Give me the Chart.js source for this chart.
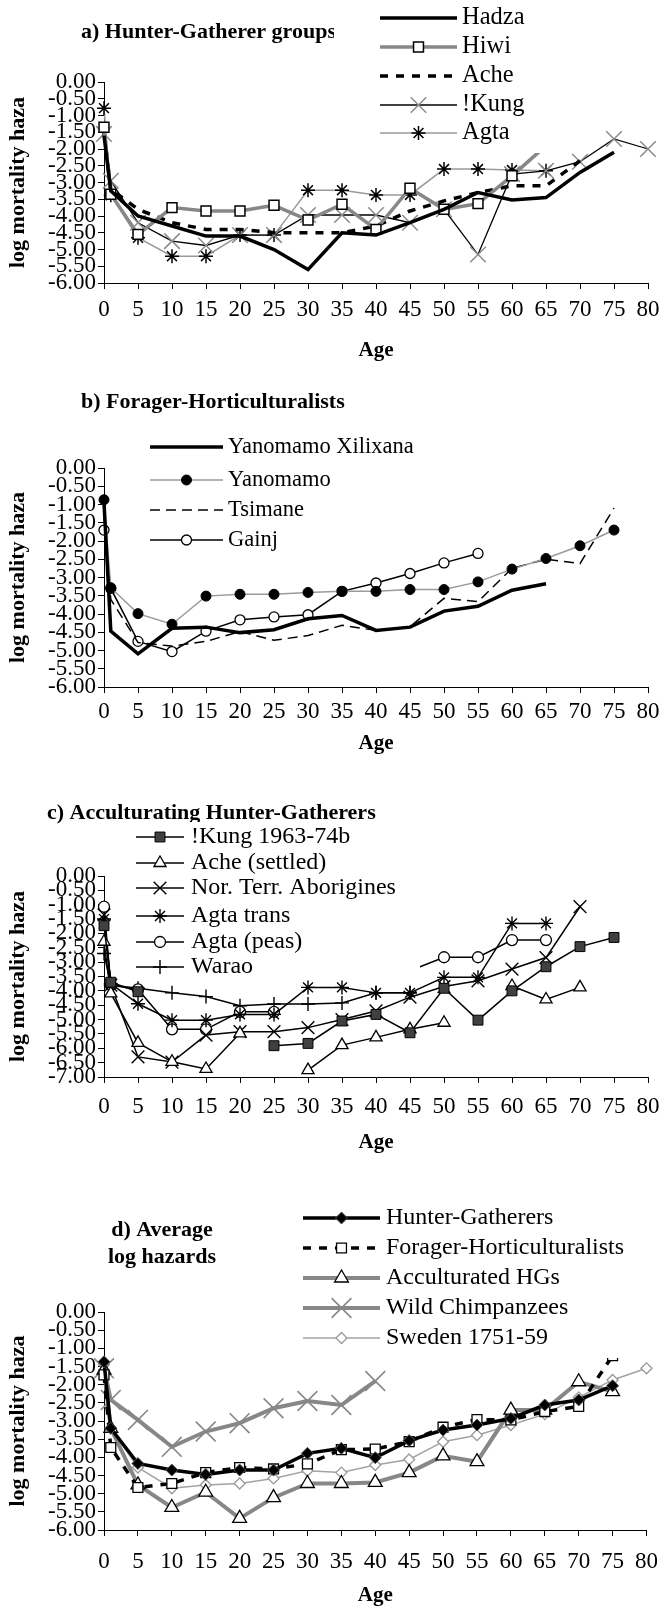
<!DOCTYPE html>
<html><head><meta charset="utf-8">
<script src="https://cdn.jsdelivr.net/npm/chart.js@4.4.1/dist/chart.umd.min.js"></script>
<style>
html,body{margin:0;padding:0;background:#fff;}
body{width:670px;height:1608px;position:relative;overflow:hidden;}
canvas{position:absolute;left:0;}
</style></head><body>
<canvas id="ca" width="670" height="392" style="top:0px"></canvas>
<canvas id="cb" width="670" height="398" style="top:392px"></canvas>
<canvas id="cc" width="670" height="395" style="top:790px"></canvas>
<canvas id="cd" width="670" height="423" style="top:1185px"></canvas>
<script>
// ---------- data ----------
const ages = [0, 1, 5, 10, 15, 20, 25, 30, 35, 40, 45, 50, 55, 60, 65, 70, 75, 80];
const ageTicks = [0, 5, 10, 15, 20, 25, 30, 35, 40, 45, 50, 55, 60, 65, 70, 75, 80];
const yTicks6 = [0, -0.5, -1, -1.5, -2, -2.5, -3, -3.5, -4, -4.5, -5, -5.5, -6];
const yTicks7 = [0, -0.5, -1, -1.5, -2, -2.5, -3, -3.5, -4, -4.5, -5, -5.5, -6, -6.5, -7];

// a) Hunter-Gatherer groups
const hadza = [-1.6, -3.25, -4.0, -4.3, -4.6, -4.6, -5.0, -5.6, -4.5, -4.57, -4.2, -3.8, -3.3, -3.52, -3.45, -2.7, -2.1];
const hiwi  = [-1.35, -3.35, -4.55, -3.75, -3.85, -3.85, -3.68, -4.12, -3.65, -4.4, -3.17, -3.8, -3.63, -2.8, -1.9];
const ache  = [-1.5, -3.2, -3.8, -4.2, -4.4, -4.4, -4.5, -4.5, -4.5, -4.3, -3.85, -3.55, -3.3, -3.1, -3.1, -2.35];
const kung  = [-1.55, -2.95, -4.2, -4.75, -4.88, -4.57, -4.57, -3.97, -3.97, -3.97, -4.2, -3.8, -5.15, -2.75, -2.65, -2.38, -1.7, -2.0];
const agta  = [-0.78, -3.38, -4.65, -5.2, -5.2, -4.57, -4.57, -3.23, -3.23, -3.37, -3.37, -2.6, -2.6, -2.63, -2.65];

// b) Forager-Horticulturalists
const xilixana = [-0.95, -4.47, -5.09, -4.39, -4.36, -4.51, -4.43, -4.13, -4.04, -4.45, -4.36, -3.92, -3.79, -3.35, -3.17];
const yanomamo = [-0.87, -3.28, -3.99, -4.28, -3.51, -3.46, -3.46, -3.41, -3.38, -3.38, -3.33, -3.33, -3.12, -2.77, -2.48, -2.13, -1.7];
const tsimane  = [-1.3, -3.6, -4.78, -4.88, -4.75, -4.48, -4.72, -4.59, -4.31, -4.45, -4.35, -3.57, -3.66, -2.75, -2.5, -2.62, -1.1];
const gainj    = [-1.7, -3.3, -4.75, -5.03, -4.47, -4.16, -4.08, -4.02, -3.38, -3.15, -2.89, -2.6, -2.34];

// c) Acculturating Hunter-Gatherers
const kung6374    = [-1.73, -3.7, -4.03, null, null, null, -5.91, -5.83, -5.05, -4.82, -5.46, -3.91, -5.02, -4.0, -3.16, -2.46, -2.14];
const acheSettled = [-2.29, -4.09, -5.81, -6.47, -6.72, -5.48, null, -6.76, -5.89, -5.62, -5.34, -5.11, null, -3.83, -4.3, -3.88];
const norTerr     = [-1.35, -3.8, -6.3, -6.48, -5.54, -5.42, -5.42, -5.28, -5.0, -4.7, -4.22, -3.85, -3.65, -3.24, -2.84, -1.07];
const agtaTrans   = [-1.5, -3.75, -4.45, -5.02, -5.02, -4.82, -4.82, -3.88, -3.88, -4.07, -4.07, -3.53, -3.53, -1.65, -1.65];
const agtaPeas    = [-1.07, -3.8, -3.95, -5.34, -5.34, -4.73, -4.73, null, null, null, -3.3, -2.83, -2.83, -2.23, -2.23];
const warao       = [-2.7, -3.8, -3.91, -4.07, -4.2, -4.52, -4.46, -4.46, -4.42, -4.07, -4.07];

// d) Average log hazards
const hunterGatherers = [-1.37, -3.2, -4.17, -4.35, -4.47, -4.35, -4.35, -3.89, -3.75, -4.01, -3.54, -3.25, -3.11, -2.93, -2.56, -2.42, -2.03];
const foragerHort     = [-1.73, -3.73, -4.83, -4.72, -4.42, -4.28, -4.32, -4.18, -3.79, -3.77, -3.57, -3.17, -2.96, -2.97, -2.74, -2.6, -1.2];
const acculturated    = [-1.6, -3.2, -4.76, -5.38, -4.96, -5.68, -5.11, -4.72, -4.72, -4.69, -4.42, -3.96, -4.12, -2.7, -2.7, -1.92, -2.19];
const chimps          = [-1.55, -2.42, -2.97, -3.71, -3.29, -3.06, -2.65, -2.45, -2.56, -1.9];
const sweden          = [-1.45, -3.2, -4.28, -4.85, -4.76, -4.72, -4.58, -4.37, -4.42, -4.21, -4.06, -3.57, -3.39, -3.11, -2.81, -2.35, -1.87, -1.55];

// ---------- helpers ----------
const SERIF = '"Liberation Serif", "Times New Roman", serif';
function ser(label, values, st) {
  return Object.assign({
    label,
    data: ages.map((a, i) => ({x: a, y: (values[i] === undefined ? null : values[i])})),
    clip: false, spanGaps: false, tension: 0, fill: false,
    pointRadius: 0, pointHoverRadius: 0, borderWidth: 1.5, borderColor: '#000'
  }, st);
}

const panelDecor = {
  id: 'panelDecor',
  afterDatasetsDraw(chart, args, opts) {
    const ctx = chart.ctx;
    ctx.save();
    ctx.fillStyle = '#000';
    ctx.font = 'bold 22px ' + SERIF;
    ctx.textBaseline = 'middle';
    (opts.titles || []).forEach(t => { ctx.textAlign = t.align || 'left'; ctx.fillText(t.text, t.x, t.y); });
    const b = opts.box;
    ctx.fillStyle = '#fff';
    ctx.fillRect(b.x, b.y, b.w, b.h);
    chart.data.datasets.forEach((ds, i) => {
      const y = opts.rows[i];
      ctx.save();
      ctx.strokeStyle = ds.borderColor;
      ctx.lineWidth = ds.borderWidth;
      ctx.setLineDash(ds.borderDash || []);
      ctx.beginPath(); ctx.moveTo(opts.x1, y); ctx.lineTo(opts.x2, y); ctx.stroke();
      ctx.setLineDash([]);
      if (ds.pointRadius > 0 && ds.pointStyle) {
        ctx.fillStyle = ds.pointBackgroundColor || '#fff';
        ctx.strokeStyle = ds.pointBorderColor || '#000';
        ctx.lineWidth = ds.pointBorderWidth || 1;
        Chart.helpers.drawPoint(ctx, {pointStyle: ds.pointStyle, radius: ds.pointRadius, borderWidth: ds.pointBorderWidth || 1, rotation: 0}, (opts.x1 + opts.x2) / 2, y);
      }
      ctx.restore();
      ctx.fillStyle = '#000';
      ctx.font = opts.fontSize + 'px ' + SERIF;
      ctx.textAlign = 'left';
      ctx.textBaseline = 'middle';
      ctx.fillText(ds.label, opts.tx, y);
    });
    ctx.restore();
  }
};

function makeOptions(p) {
  return {
    responsive: false, animation: false, events: [],
    layout: {padding: {top: p.top, right: 22, left: 0, bottom: 0}},
    plugins: {legend: {display: false}, title: {display: false}, tooltip: {enabled: false}, panelDecor: p.decor},
    scales: {
      x: {
        type: 'linear', min: 0, max: 80,
        afterFit(s) { s.height = p.xh; },
        afterBuildTicks(s) { s.ticks = ageTicks.map(v => ({value: v})); },
        grid: {drawOnChartArea: false, drawTicks: true, tickLength: 6, color: '#000', lineWidth: 1},
        border: {display: true, color: '#000', width: 1},
        ticks: {color: '#000', font: {family: SERIF, size: 23}, padding: p.tickPad, maxRotation: 0, minRotation: 0, autoSkip: false},
        title: {display: true, text: 'Age', color: '#000', font: {family: SERIF, size: 21, weight: 'bold'}, padding: {top: 0, bottom: p.agePad}}
      },
      y: {
        type: 'linear', min: p.ymin, max: 0,
        afterFit(s) { s.width = 104; },
        afterBuildTicks(s) { s.ticks = p.yTicks.map(v => ({value: v})); },
        grid: {drawOnChartArea: false, drawTicks: true, tickLength: 6, color: '#000', lineWidth: 1},
        border: {display: true, color: '#000', width: 1},
        ticks: {color: '#000', font: {family: SERIF, size: 23}, padding: 2, autoSkip: false, callback: v => Number(v).toFixed(2)},
        title: {display: true, text: 'log mortality haza', color: '#000', font: {family: SERIF, size: 22, weight: 'bold'}, padding: {top: 5, bottom: 0}}
      }
    }
  };
}

const GRAY = '#878787', LGRAY = '#a3a3a3';

// ---------- panel a ----------
new Chart(document.getElementById('ca'), {
  type: 'line',
  data: {datasets: [
    ser('Hadza', hadza, {borderColor: '#000', borderWidth: 3.5}),
    ser('Hiwi', hiwi, {borderColor: GRAY, borderWidth: 3.5, pointStyle: 'rect', pointRadius: 7, pointBackgroundColor: '#fff', pointBorderColor: '#000', pointBorderWidth: 1.5}),
    ser('Ache', ache, {borderColor: '#000', borderWidth: 3.5, borderDash: [8, 8]}),
    ser('!Kung', kung, {borderColor: '#000', borderWidth: 1.3, pointStyle: 'crossRot', pointRadius: 11, pointBorderColor: '#8c8c8c', pointBackgroundColor: '#8c8c8c', pointBorderWidth: 1.5}),
    ser('Agta', agta, {borderColor: '#9a9a9a', borderWidth: 1.5, pointStyle: 'star', pointRadius: 7, pointBorderColor: '#000', pointBackgroundColor: '#000', pointBorderWidth: 1.5})
  ]},
  options: makeOptions({top: 82, xh: 109, tickPad: 7, agePad: 29, ymin: -6, yTicks: yTicks6,
    decor: {titles: [{text: 'a) Hunter-Gatherer groups', x: 81, y: 32}], box: {x: 334, y: 0, w: 228, h: 153}, rows: [18, 47, 76, 105, 133], x1: 380, x2: 457, tx: 462, fontSize: 24.5}}),
  plugins: [panelDecor]
});

// ---------- panel b ----------
new Chart(document.getElementById('cb'), {
  type: 'line',
  data: {datasets: [
    ser('Yanomamo Xilixana', xilixana, {borderColor: '#000', borderWidth: 3.5}),
    ser('Yanomamo', yanomamo, {borderColor: '#9a9a9a', borderWidth: 1.5, pointStyle: 'circle', pointRadius: 5, pointBackgroundColor: '#000', pointBorderColor: '#000', pointBorderWidth: 1}),
    ser('Tsimane', tsimane, {borderColor: '#000', borderWidth: 1.5, borderDash: [10, 6]}),
    ser('Gainj', gainj, {borderColor: '#000', borderWidth: 1.5, pointStyle: 'circle', pointRadius: 5, pointBackgroundColor: '#fff', pointBorderColor: '#000', pointBorderWidth: 1.3})
  ]},
  options: makeOptions({top: 76, xh: 103, tickPad: 5, agePad: 34, ymin: -6, yTicks: yTicks6,
    decor: {titles: [{text: 'b) Forager-Horticulturalists', x: 81, y: 10}], box: {x: 140, y: 38, w: 290, h: 125}, rows: [55, 88, 118, 148], x1: 150, x2: 223, tx: 228, fontSize: 22.5}}),
  plugins: [panelDecor]
});

// ---------- panel c ----------
new Chart(document.getElementById('cc'), {
  type: 'line',
  data: {datasets: [
    ser('!Kung 1963-74b', kung6374, {pointStyle: 'rect', pointRadius: 7, pointBackgroundColor: '#404040', pointBorderColor: '#000', pointBorderWidth: 1}),
    ser('Ache (settled)', acheSettled, {pointStyle: 'triangle', pointRadius: 7, pointBackgroundColor: '#fff', pointBorderColor: '#000', pointBorderWidth: 1.3}),
    ser('Nor. Terr. Aborigines', norTerr, {pointStyle: 'crossRot', pointRadius: 9, pointBorderColor: '#000', pointBorderWidth: 1.4}),
    ser('Agta trans', agtaTrans, {pointStyle: 'star', pointRadius: 7, pointBorderColor: '#000', pointBorderWidth: 1.4}),
    ser('Agta (peas)', agtaPeas, {pointStyle: 'circle', pointRadius: 5.5, pointBackgroundColor: '#fff', pointBorderColor: '#000', pointBorderWidth: 1.3}),
    ser('Warao', warao, {pointStyle: 'cross', pointRadius: 7, pointBorderColor: '#000', pointBorderWidth: 1.4})
  ]},
  options: makeOptions({top: 86, xh: 108, tickPad: 10, agePad: 30, ymin: -7, yTicks: yTicks7,
    decor: {titles: [{text: 'c) Acculturating Hunter-Gatherers', x: 47, y: 23}], box: {x: 128, y: 32, w: 292, h: 158}, rows: [47, 73, 98, 126, 152, 177], x1: 136, x2: 184, tx: 191, fontSize: 24}}),
  plugins: [panelDecor]
});

// ---------- panel d ----------
new Chart(document.getElementById('cd'), {
  type: 'line',
  data: {datasets: [
    ser('Hunter-Gatherers', hunterGatherers, {borderColor: '#000', borderWidth: 3.5, pointStyle: 'rectRot', pointRadius: 6, pointBackgroundColor: '#000', pointBorderColor: '#555', pointBorderWidth: 1}),
    ser('Forager-Horticulturalists', foragerHort, {borderColor: '#000', borderWidth: 3.5, borderDash: [8, 8], pointStyle: 'rect', pointRadius: 7, pointBackgroundColor: '#fff', pointBorderColor: '#000', pointBorderWidth: 1.3}),
    ser('Acculturated HGs', acculturated, {borderColor: GRAY, borderWidth: 4, pointStyle: 'triangle', pointRadius: 8, pointBackgroundColor: '#fff', pointBorderColor: '#000', pointBorderWidth: 1.3}),
    ser('Wild Chimpanzees', chimps, {borderColor: GRAY, borderWidth: 4, pointStyle: 'crossRot', pointRadius: 14, pointBorderColor: GRAY, pointBorderWidth: 1.6}),
    ser('Sweden 1751-59', sweden, {borderColor: LGRAY, borderWidth: 1.5, pointStyle: 'rectRot', pointRadius: 5.5, pointBackgroundColor: '#fff', pointBorderColor: '#999', pointBorderWidth: 1.3})
  ]},
  options: makeOptions({top: 127, xh: 78, tickPad: 12, agePad: 0, ymin: -6, yTicks: yTicks6,
    decor: {titles: [{text: 'd) Average', x: 162, y: 45, align: 'center'}, {text: 'log hazards', x: 162, y: 72, align: 'center'}], box: {x: 296, y: 15, w: 344, h: 158}, rows: [33, 63, 93, 123, 153], x1: 303, x2: 380, tx: 386, fontSize: 24}}),
  plugins: [panelDecor]
});
</script>
</body></html>
